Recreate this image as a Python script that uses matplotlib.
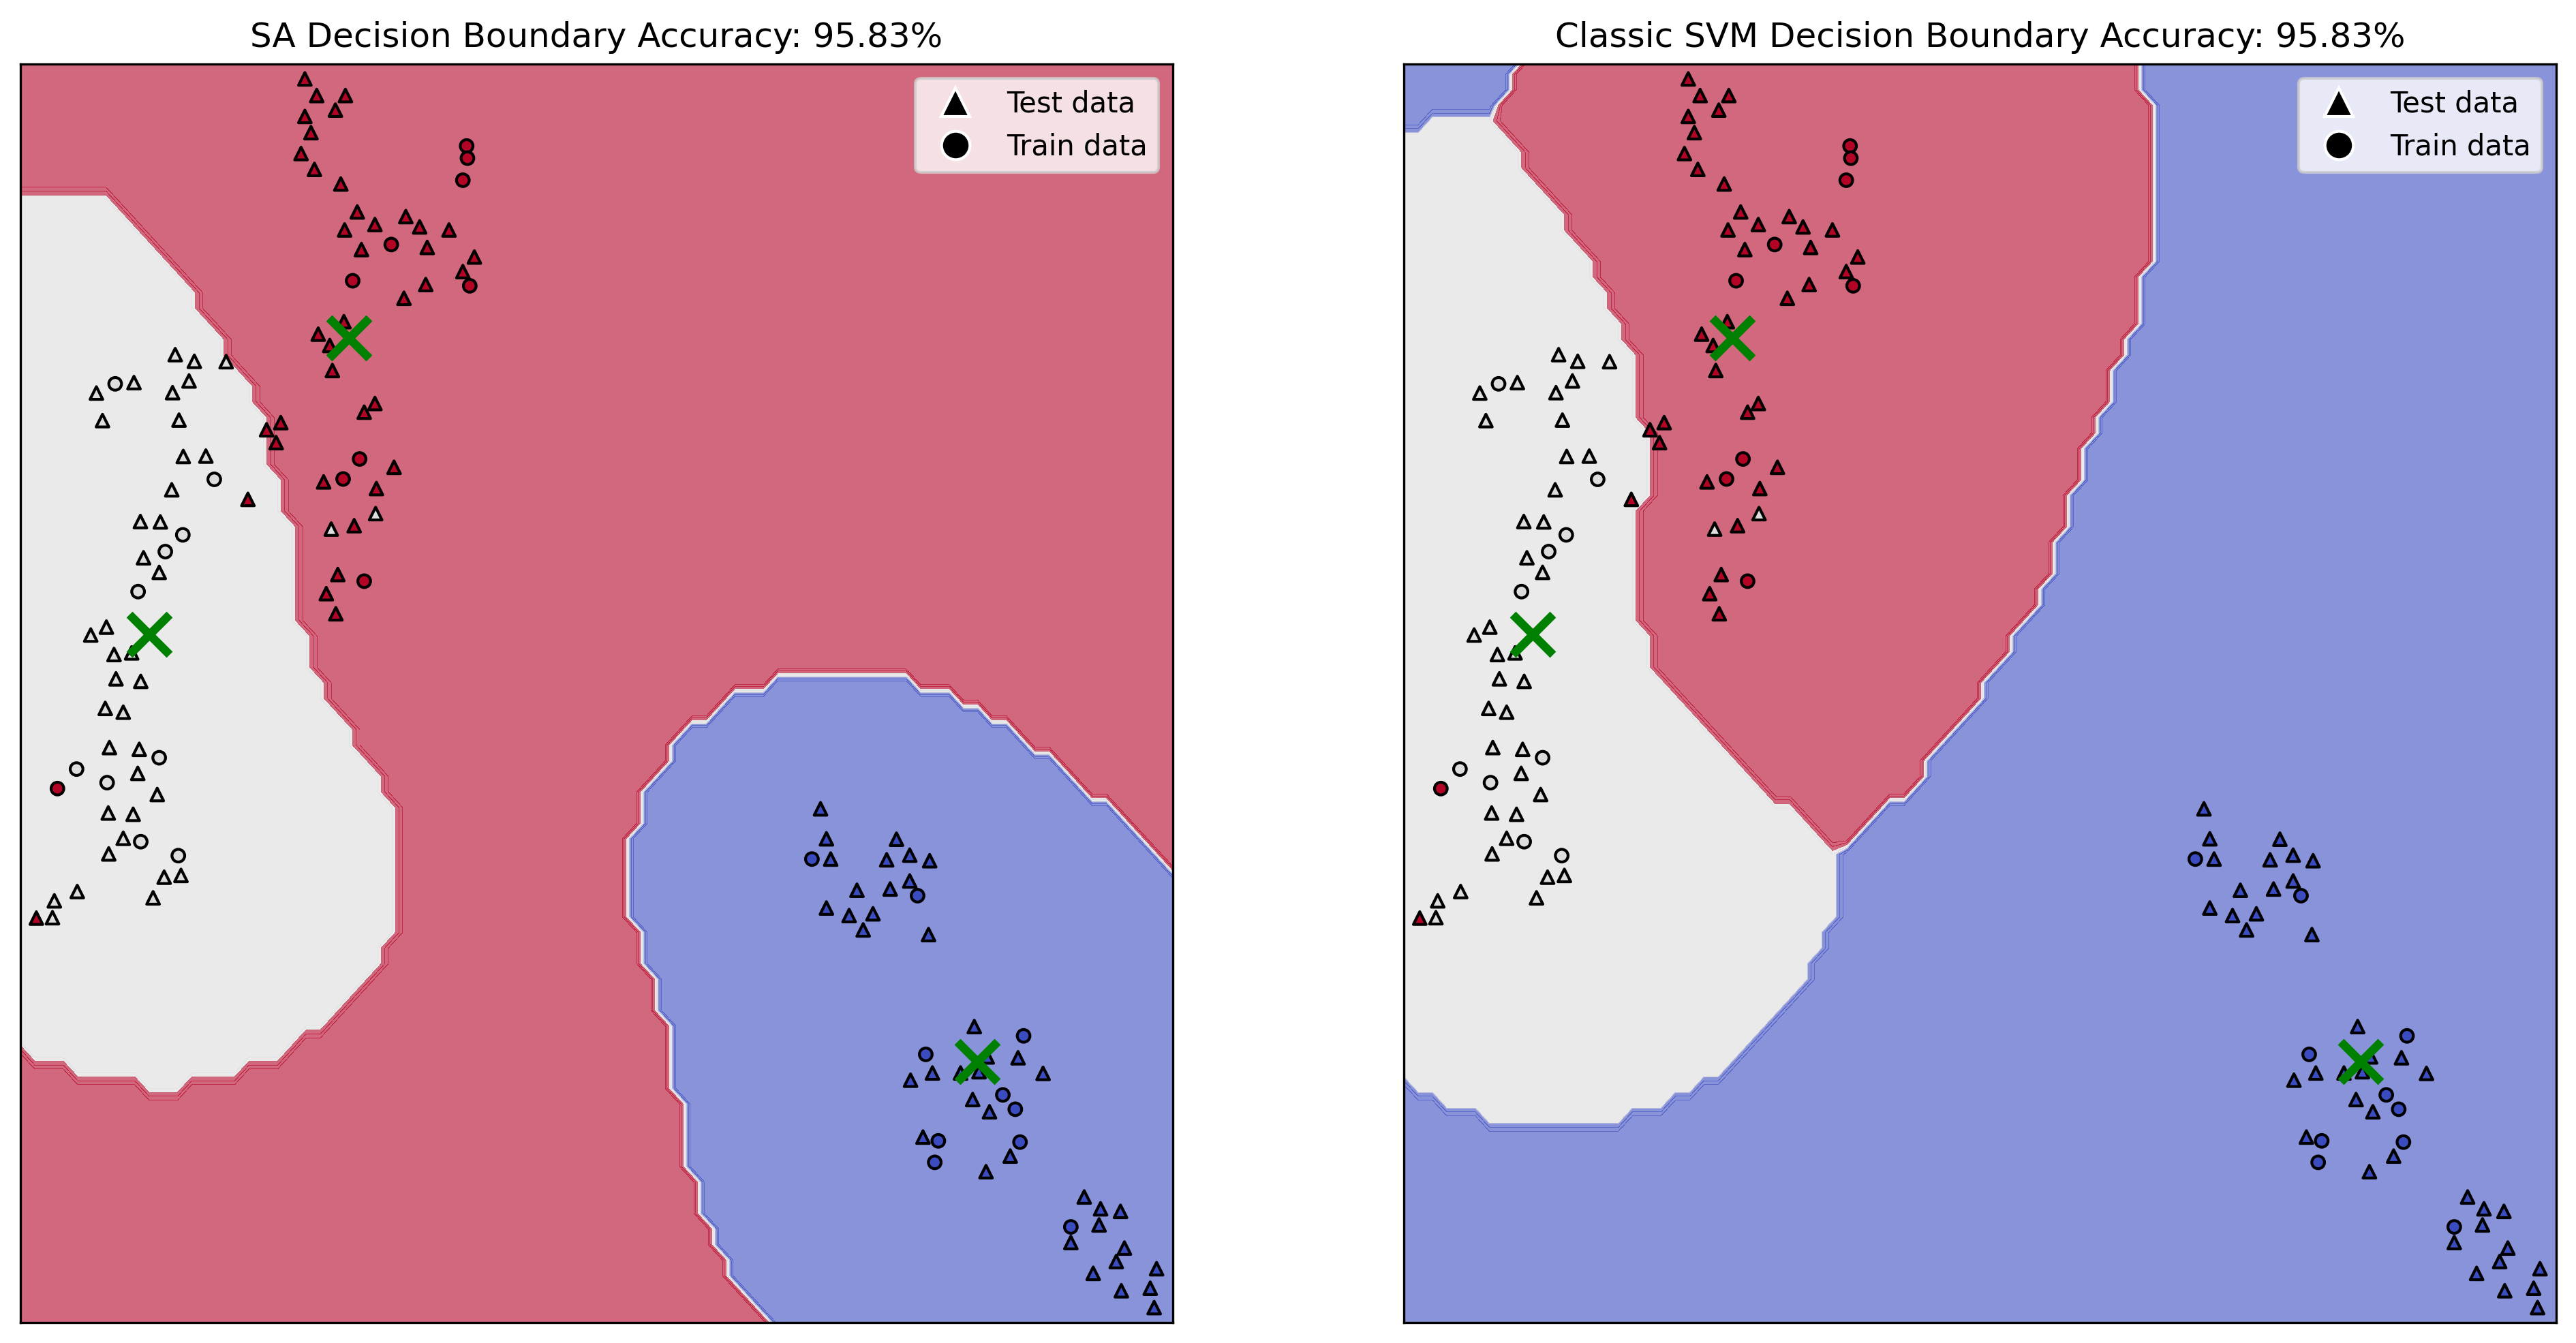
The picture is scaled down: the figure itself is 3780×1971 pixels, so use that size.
import numpy as np
import matplotlib
matplotlib.use("Agg")
import matplotlib.pyplot as plt
from matplotlib.path import Path
from matplotlib.lines import Line2D

# ---------------- data ----------------
# class labels: 0 = blue, 1 = grey, 2 = red
test_x = [2.468, 2.571, 2.820, 2.733, 2.468, 2.521, 2.435, 2.551, 2.780, 2.923,
          2.813, 3.076, 3.344, 3.464, 3.719, 2.959, 3.530, 3.939, 3.839, 3.517,
          3.328, 2.807, 2.584, 2.684, 2.707, 3.076, 2.983, 2.259, 2.136, 2.219,
          3.242, 2.631, 3.089, 1.974, 2.896, 2.754, 2.654, 2.737, 0.138,
          3.082, 2.697, 1.343, 1.509, 1.785, 0.985, 0.659, 1.463, 1.320, 0.712,
          1.376, 1.413, 1.609, 1.313, 1.041, 1.214, 1.068, 1.204, 0.746, 0.610,
          0.812, 0.965, 0.829, 1.044, 0.736, 0.892, 0.772, 1.031, 1.018, 1.187,
          0.762, 0.978, 0.892, 0.766, 1.247, 1.393, 0.493, 1.151, 0.294, 0.278,
          6.943, 6.994, 7.031, 7.602, 7.517, 7.717, 7.890, 7.717, 7.259, 7.547,
          6.994, 7.191, 7.398, 7.313, 7.880, 8.277, 8.389, 8.657, 7.914, 8.158,
          8.318, 8.874, 7.724, 8.263, 8.409, 7.832, 8.589, 8.379, 9.231, 9.373,
          9.546, 9.360, 9.115, 9.580, 9.509, 9.309, 9.859, 9.804, 9.553, 9.838]
test_y = [9.882, 9.750, 9.750, 9.634, 9.584, 9.455, 9.289, 9.163, 9.047, 8.825,
          8.682, 8.725, 8.788, 8.706, 8.682, 8.526, 8.543, 8.467, 8.351, 8.248,
          8.139, 7.953, 7.854, 7.764, 7.565, 7.303, 7.234, 7.151, 7.094, 6.992,
          6.796, 6.680, 6.627, 6.541, 6.332, 5.944, 5.792, 5.632, 3.214,
          6.428, 6.305, 7.691, 7.638, 7.635, 7.469, 7.386, 7.482, 7.389, 7.167,
          7.171, 6.882, 6.885, 6.617, 6.365, 6.362, 6.077, 5.961, 5.526, 5.463,
          5.308, 5.321, 5.115, 5.095, 4.880, 4.850, 4.569, 4.555, 4.364, 4.196,
          4.049, 4.039, 3.848, 3.724, 3.539, 3.553, 3.425, 3.375, 3.351, 3.217,
          4.082, 3.844, 3.683, 3.841, 3.677, 3.714, 3.670, 3.509, 3.435, 3.445,
          3.294, 3.234, 3.248, 3.120, 3.083, 2.352, 2.111, 2.104, 1.983, 1.983,
          1.993, 1.980, 1.926, 1.772, 1.675, 1.474, 1.323, 1.199, 0.998, 0.904,
          0.884, 0.776, 0.636, 0.592, 0.485, 0.391, 0.428, 0.273, 0.253, 0.119]
test_label = [2] * 39 + [1] * 40 + [0] * 40

train_x = [3.872, 3.879, 3.839, 3.218, 3.899, 2.883, 2.943, 2.800, 2.983, 0.321,
           0.822, 1.682, 1.409, 1.257, 1.021, 1.204, 0.487, 0.752, 1.044, 1.370,
           6.868, 7.785, 8.705, 7.856, 8.525, 8.633, 7.965, 8.674, 7.934, 9.115]
train_y = [9.349, 9.252, 9.077, 8.566, 8.238, 8.278, 6.862, 6.703, 5.891, 4.243,
           7.459, 6.700, 6.259, 6.126, 5.808, 4.488, 4.398, 4.290, 3.821, 3.710,
           3.683, 3.392, 2.278, 2.131, 1.809, 1.695, 1.444, 1.434, 1.273, 0.760]
train_label = [2] * 10 + [1] * 10 + [0] * 10

center_x = [2.853, 1.120, 8.304]
center_y = [7.824, 5.467, 2.071]

titles = ["SA Decision Boundary Accuracy: 95.83%",
          "Classic SVM Decision Boundary Accuracy: 95.83%"]

# decision regions (outlines of predicted class areas)
sa_grey_region = [(-1, 8.99), (0.80, 8.99), (1.565, 8.096), (1.565, 7.996), (1.848, 7.714),
                  (1.848, 7.582), (2.080, 7.350), (2.096, 7.217), (2.196, 7.101), (2.196, 6.836),
                  (2.345, 6.710), (2.362, 6.206), (2.462, 6.073), (2.462, 5.560), (2.604, 5.444),
                  (2.604, 5.195), (2.704, 5.079), (2.704, 4.944), (2.959, 4.676), (2.959, 4.559),
                  (3.102, 4.424), (3.102, 4.290), (3.225, 4.173), (3.225, 4.039), (3.348, 3.921),
                  (3.348, 3.284), (3.225, 3.157), (3.225, 3.033), (3.102, 2.909), (3.102, 2.781),
                  (2.644, 2.352), (2.528, 2.352), (2.279, 2.094), (2.023, 2.094), (1.907, 1.967),
                  (1.516, 1.967), (1.400, 1.843), (1.011, 1.843), (0.892, 1.967), (0.503, 1.967),
                  (0.381, 2.101), (0.122, 2.101), (0.0, 2.205), (-1, 2.205)]
sa_blue_region = [(6.580, 5.127), (7.734, 5.127), (7.836, 5.011), (8.090, 5.011), (8.226, 4.877),
                  (8.345, 4.877), (8.481, 4.743), (8.599, 4.743), (8.854, 4.491), (8.990, 4.491),
                  (9.363, 4.123), (9.482, 4.123), (10.0, 3.620), (10.6, 3.02), (10.6, -0.6),
                  (6.40, -0.6), (6.512, 0.0), (6.139, 0.384), (6.139, 0.501), (6.013, 0.636),
                  (6.013, 0.770), (5.884, 0.887), (5.884, 1.138), (5.759, 1.256), (5.759, 1.776),
                  (5.630, 1.893), (5.630, 2.413), (5.494, 2.530), (5.494, 2.781), (5.375, 2.916),
                  (5.375, 3.167), (5.239, 3.284), (5.239, 3.804), (5.375, 3.938), (5.375, 4.190),
                  (5.630, 4.424), (5.630, 4.559), (5.816, 4.776), (5.952, 4.776), (6.190, 5.011),
                  (6.461, 5.011)]

svm_grey_red_edge = [(0.702, 9.620), (1.096, 9.239), (1.096, 9.123), (1.457, 8.742), (1.457, 8.626),
                     (1.706, 8.361), (1.706, 8.228), (1.837, 8.096), (1.837, 7.980), (1.969, 7.847),
                     (1.969, 7.731), (2.080, 7.615), (2.080, 7.200), (2.179, 7.101), (2.179, 6.587),
                     (2.080, 6.488), (2.080, 5.593), (2.211, 5.460), (2.211, 5.195), (3.294, 4.123),
                     (3.425, 4.123), (3.786, 3.771)]
svm_grey_top = [(-0.6, 9.438), (0.0, 9.438), (0.144, 9.471), (0.243, 9.561), (0.637, 9.561)]
svm_grey_bottom = [(3.740, 3.687), (3.740, 3.167), (3.609, 3.050), (3.609, 2.916), (3.478, 2.781),
                   (3.478, 2.647), (2.769, 1.960), (2.658, 1.960), (2.526, 1.859), (2.408, 1.859),
                   (2.277, 1.725), (2.015, 1.725), (1.897, 1.591), (0.748, 1.591), (0.617, 1.725),
                   (0.374, 1.725), (0.243, 1.849), (0.125, 1.849), (0.0, 1.977), (-0.6, 1.977)]
svm_red_blue_edge = [(3.786, 3.771), (4.180, 4.149), (4.311, 4.149), (4.475, 4.307), (4.475, 4.441),
                     (4.987, 4.944), (5.000, 5.079), (5.250, 5.328), (5.250, 5.444), (5.512, 5.709),
                     (5.512, 5.841), (5.643, 5.957), (5.643, 6.206), (5.755, 6.322), (5.755, 6.587),
                     (5.867, 6.703), (5.867, 6.952), (6.017, 7.101), (6.017, 7.234), (6.149, 7.350),
                     (6.149, 7.598), (6.280, 7.731), (6.280, 7.847), (6.398, 7.980), (6.398, 8.361),
                     (6.510, 8.477), (6.510, 9.637), (6.398, 9.753), (6.398, 10.6)]
svm_red_top_left = [(1.25, 10.6), (1.063, 10.0)]

# ---------------- grid classification ----------------
h = 0.124
gx = np.arange(0.0, 10.2, h)
gy = np.arange(0.0, 10.2, h)
xx, yy = np.meshgrid(gx, gy)
pts = np.c_[xx.ravel(), yy.ravel()]


def inside(poly):
    return Path(poly).contains_points(pts).reshape(xx.shape)


Z_sa = np.full(xx.shape, 2.0)
Z_sa[inside(sa_grey_region)] = 1.0
Z_sa[inside(sa_blue_region)] = 0.0

grey_poly = svm_grey_top + svm_grey_red_edge + svm_grey_bottom
red_poly = svm_red_top_left + svm_grey_red_edge + svm_red_blue_edge[1:]
Z_svm = np.zeros(xx.shape)
Z_svm[inside(grey_poly)] = 1.0
Z_svm[inside(red_poly)] = 2.0

# ---------------- plotting ----------------
cmap3 = matplotlib.colormaps["coolwarm"].resampled(3)

fig = plt.figure(figsize=(12.6, 6.57), dpi=300)
W, H = 3780.0, 1971.0
axes = [fig.add_axes([30 / W, 30 / H, 1691 / W, 1847 / H]),
        fig.add_axes([2060 / W, 30 / H, 1691 / W, 1847 / H])]

for ax, Z, title in zip(axes, [Z_sa, Z_svm], titles):
    ax.contourf(xx, yy, Z, cmap=cmap3, alpha=0.6)
    ax.scatter(train_x, train_y, c=train_label, cmap=cmap3, vmin=0, vmax=2,
               marker="o", s=20, edgecolors="k", linewidths=1)
    ax.scatter(test_x, test_y, c=test_label, cmap=cmap3, vmin=0, vmax=2,
               marker="^", s=20, edgecolors="k", linewidths=1)
    ax.scatter(center_x, center_y, c="green", marker="x", s=200, linewidths=3)
    ax.set_xlim(0, 10)
    ax.set_ylim(0, 10)
    ax.set_xticks([])
    ax.set_yticks([])
    ax.set_title(title, fontsize=12)
    handles = [Line2D([], [], marker="^", color="w", markerfacecolor="k",
                      markersize=10, linestyle="None", label="Test data"),
               Line2D([], [], marker="o", color="w", markerfacecolor="k",
                      markersize=10, linestyle="None", label="Train data")]
    ax.legend(handles=handles, loc="upper right")

fig.savefig("out.png", dpi=300)
